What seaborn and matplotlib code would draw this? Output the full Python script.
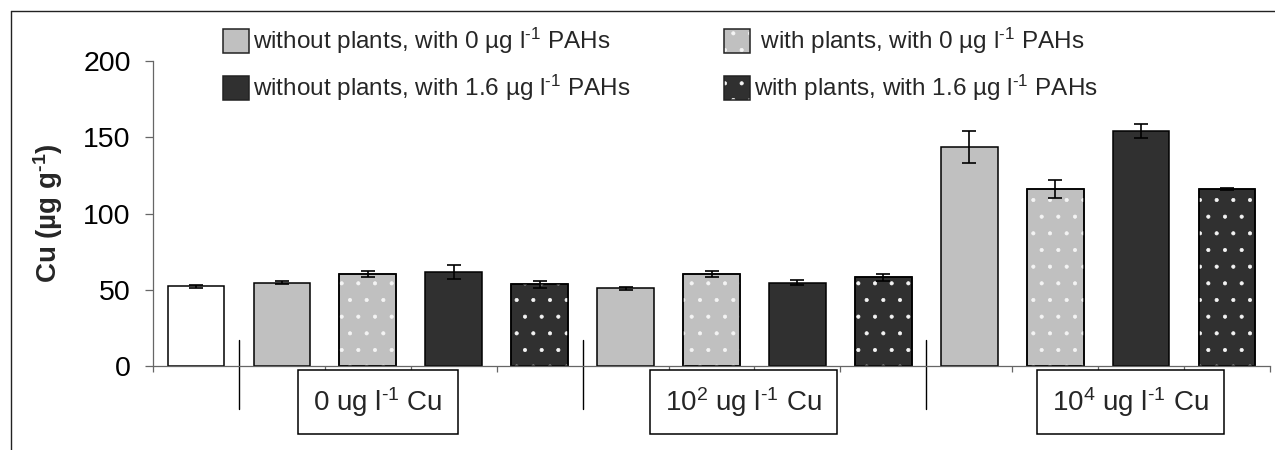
import numpy as np
import pandas as pd
import matplotlib
matplotlib.use("Agg")
import matplotlib.pyplot as plt
import matplotlib.transforms as mtransforms
from matplotlib.patches import Patch, Rectangle
from matplotlib.lines import Line2D
import seaborn as sns

sns.set_theme(style="white")
plt.rcParams["font.family"] = ["Liberation Sans", "DejaVu Sans"]
plt.rcParams["mathtext.fontset"] = "custom"
plt.rcParams["mathtext.rm"] = "Liberation Sans"
plt.rcParams["mathtext.it"] = "Liberation Sans:italic"
plt.rcParams["mathtext.bf"] = "Liberation Sans:bold"
plt.rcParams["hatch.linewidth"] = 0.5

# ---------------- data ----------------
bar_ids = ["ctrl", "a1", "a2", "a3", "a4", "b1", "b2", "b3", "b4",
           "c1", "c2", "c3", "c4"]
bar_treatment = ["control", "np0", "p0", "np16", "p16",
                 "np0", "p0", "np16", "p16",
                 "np0", "p0", "np16", "p16"]
bar_means = [52.3, 54.6, 60.4, 61.6, 53.5,
             50.9, 60.3, 54.6, 58.2,
             143.6, 116.3, 154.3, 116.3]
bar_errors = [1.0, 1.0, 2.0, 4.8, 2.2,
              0.8, 1.9, 1.8, 2.3,
              10.7, 5.9, 4.6, 0.7]
group_sizes = [1, 4, 4, 4]
group_labels = ["0 ug l$^{\u20101}$ Cu", "10$^{2}$ ug l$^{\u20101}$ Cu",
                "10$^{4}$ ug l$^{\u20101}$ Cu"]
treatments = ["control", "np0", "p0", "np16", "p16"]
legend_labels = {
    "np0": "without plants, with 0 µg l$^{\u20101}$ PAHs",
    "p0": " with plants, with 0 µg l$^{\u20101}$ PAHs",
    "np16": "without plants, with 1.6 µg l$^{\u20101}$ PAHs",
    "p16": "with plants, with 1.6 µg l$^{\u20101}$ PAHs",
}
y_ticks = [0, 50, 100, 150, 200]

# ---------------- styles ----------------
GRAY = "#C0C0C0"
DARK = "#303030"
palette = {"control": "white", "np0": GRAY, "p0": GRAY, "np16": DARK, "p16": DARK}
dotted = {"p0", "p16"}
AXCOL = "#666666"

fig = plt.figure(figsize=(12.75, 4.5), dpi=100)
ax = fig.add_axes([153 / 1275, 1 - 366 / 450, 1117 / 1275, 305 / 450])

df = pd.DataFrame({"bar": bar_ids, "treatment": bar_treatment, "value": bar_means})
sns.barplot(data=df, x="bar", y="value", hue="treatment", order=bar_ids,
            hue_order=treatments, palette=palette, dodge=False, width=0.66,
            edgecolor="black", linewidth=1.1, errorbar=None, legend=False,
            saturation=1, ax=ax)

# dotted overlays
for p in list(ax.patches):
    xc = p.get_x() + p.get_width() / 2
    i = int(round(xc))
    if 0 <= i < len(bar_treatment) and bar_treatment[i] in dotted and p.get_height() > 0:
        z = p.get_zorder()
        ax.add_patch(Rectangle((p.get_x(), p.get_y()), p.get_width(), p.get_height(),
                               fill=False, edgecolor="#f4f4f4", linewidth=0,
                               hatch=".", zorder=z + 0.1))
        ax.add_patch(Rectangle((p.get_x(), p.get_y()), p.get_width(), p.get_height(),
                               fill=False, edgecolor="black", linewidth=1.1,
                               zorder=z + 0.2))

ax.errorbar(np.arange(len(bar_means)), bar_means, yerr=bar_errors, fmt="none",
            ecolor="black", elinewidth=1.2, capsize=5, capthick=1.2, zorder=5)

# axes styling
ax.set_ylim(0, 200)
ax.set_yticks(y_ticks)
ax.set_yticklabels([str(t) for t in y_ticks], fontsize=20.5)
ax.set_xlim(-0.5, len(bar_ids) - 0.5)
bounds = np.cumsum(group_sizes) - 0.5
all_edges = np.arange(-0.5, len(bar_ids), 1.0)
sep_edges = bounds[:-1]
tick_edges = [e for e in all_edges if not np.any(np.isclose(e, sep_edges))]
ax.set_xticks(tick_edges)
ax.set_xticklabels([""] * len(tick_edges))
ax.set_xlabel("")
for s in ["top", "right"]:
    ax.spines[s].set_visible(False)
for s in ["left", "bottom"]:
    ax.spines[s].set_color(AXCOL)
    ax.spines[s].set_linewidth(0.9)
ax.tick_params(axis="y", direction="out", length=6, width=0.9, color=AXCOL,
               pad=10, left=True, labelcolor="black")
ax.tick_params(axis="x", direction="out", length=4.5, width=0.9, color=AXCOL,
               bottom=True)

ax.set_ylabel("Cu (µg g$^{\\mathbf{\u20101}}$)", fontsize=20, fontweight="bold")
ax.yaxis.set_label_coords(-0.079, 0.5)

trans = mtransforms.blended_transform_factory(ax.transData, ax.transAxes)
for e in sep_edges:
    ax.add_line(Line2D([e, e], [0.085, -0.14], transform=trans, color="black",
                       lw=1.0, clip_on=False))

label_x = [2.12, 6.37, 10.88]
for lx, lab in zip(label_x, group_labels):
    ax.text(lx, -0.118, lab, transform=trans, ha="center", va="center",
            fontsize=20, bbox=dict(boxstyle="square,pad=0.55", fc="white",
                                   ec="black", lw=1.1), clip_on=False)

# legend
order = ["np0", "np16", "p0", "p16"]
handles = []
for t in order:
    if t in dotted:
        handles.append((Patch(fc=palette[t], ec="none"),
                        Patch(fill=False, ec="#f4f4f4", lw=0, hatch="."),
                        Patch(fill=False, ec="#222222", lw=1.1)))
    else:
        handles.append(Patch(fc=palette[t], ec="#222222", lw=1.1))
fig.legend(handles, [legend_labels[t] for t in order], loc="upper left",
           bbox_to_anchor=(223 / 1275, 1 - 26 / 450), ncol=2, frameon=False,
           prop={"size": 17.5},
           handlelength=1.07, handleheight=1.15, handletextpad=0.17,
           columnspacing=3.85, labelspacing=0.68, borderpad=0, borderaxespad=0)

# outer frame (top and left only visible)
fig.add_artist(Line2D([11 / 1275, 1.0], [1 - 11 / 450, 1 - 11 / 450],
                      transform=fig.transFigure, color="#222222", lw=1.0))
fig.add_artist(Line2D([11 / 1275, 11 / 1275], [1 - 11 / 450, 0.0],
                      transform=fig.transFigure, color="#222222", lw=1.0))

fig.savefig("out.png", dpi=100, facecolor="white")
